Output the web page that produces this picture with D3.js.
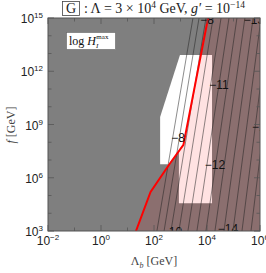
<!DOCTYPE html>
<html><head><meta charset="utf-8">
<script src="https://cdn.jsdelivr.net/npm/d3@7"></script>
<style>body{margin:0;background:#fff}svg{display:block}</style>
</head><body><svg id="sv" width="266" height="273"></svg>
<script>
// log10 values: x = log Λb [GeV], y = log f [GeV]
const xTicks = [-2, 0, 2, 4, 6];
const yTicks = [3, 6, 9, 12, 15];
const redLine = [[1.32, 3], [1.87, 5.2], [2.58, 6.76], [3.11, 7.85], [4.04, 15]];
const brownEdge = [[1.32, 3], [1.87, 5.2], [2.58, 6.76], [3.11, 7.85], [3.98, 15]];
const whiteZone = [[2.98, 12.92], [3.77, 12.92], [3.11, 7.85], [2.58, 6.76], [2.23, 6.76], [2.23, 9.42]];
const pinkZone = [[3.77, 12.92], [4.19, 12.92], [4.19, 4.56], [2.94, 4.56], [2.94, 7.5], [3.11, 7.85]];
const lineZone = [[3.35, 15], [2.98, 12.92], [2.23, 9.42], [2.23, 6.76], [2.58, 6.76], [1.87, 5.2], [1.32, 3], [6, 3], [6, 15]];
const contourTop = [3.47, 3.70, 3.96, 4.23, 4.53, 4.83, 5.13, 5.43, 5.74, 6.04, 6.34, 6.64, 6.94, 7.25, 7.55];
const contourBottom = [2.11, 2.38, 2.64, 2.94, 3.28, 3.62, 3.96, 4.30, 4.64, 4.98, 5.32, 5.66, 6.0, 6.34, 6.68];
const contourLabels = [
  ["\u22128", 4.0, 14.92], ["\u221213", 5.77, 14.92], ["\u221211", 4.45, 11.23], ["\u221215", 6.08, 8.86],
  ["\u22128", 2.91, 8.24], ["\u221212", 4.30, 6.72], ["\u221210", 2.68, 2.97], ["\u221214", 4.79, 3.1]
];

const L = 48, R = 260, T = 18, B = 231;
const x = d3.scaleLinear().domain([-2, 6]).range([L, R]);
const y = d3.scaleLinear().domain([3, 15]).range([B, T]);
const svg = d3.select("#sv");
const serif = "'Liberation Serif','DejaVu Serif',serif";
const sans = "'Liberation Sans',Arial,sans-serif";
const poly = pts => "M" + pts.map(p => x(p[0]) + "," + y(p[1])).join("L") + "Z";

const defs = svg.append("defs");
defs.append("clipPath").attr("id", "pc").append("rect").attr("x", L).attr("y", T).attr("width", R - L).attr("height", B - T);
defs.append("clipPath").attr("id", "lc").append("path").attr("d", poly(lineZone));

const g = svg.append("g").attr("clip-path", "url(#pc)");
g.append("rect").attr("x", L).attr("y", T).attr("width", R - L).attr("height", B - T).attr("fill", "#7f7f7f");
g.append("path").attr("d", poly([...brownEdge, [6, 15], [6, 3]])).attr("fill", "#8b6f6f");
g.append("path").attr("d", poly(whiteZone)).attr("fill", "#fff");
g.append("path").attr("d", poly(pinkZone)).attr("fill", "#ffe2e2");

g.append("g").attr("clip-path", "url(#lc)").selectAll("line").data(contourTop).enter().append("line")
  .attr("x1", d => x(d)).attr("y1", y(15)).attr("x2", (d, i) => x(contourBottom[i])).attr("y2", y(3))
  .attr("stroke", "#222").attr("stroke-opacity", .75).attr("stroke-width", .7);

g.append("path").attr("d", d3.line().x(d => x(d[0])).y(d => y(d[1]))(redLine))
  .attr("fill", "none").attr("stroke", "#f00").attr("stroke-width", 2);

g.append("g").selectAll("text").data(contourLabels).enter().append("text")
  .attr("x", d => x(d[1])).attr("y", d => y(d[2])).attr("dy", ".35em").attr("text-anchor", "middle")
  .attr("font-family", sans).attr("font-size", 12).attr("fill", "#111").text(d => d[0]);

// frame and ticks
svg.append("rect").attr("x", L).attr("y", T).attr("width", R - L).attr("height", B - T)
  .attr("fill", "none").attr("stroke", "#555").attr("stroke-width", 1);
const tk = svg.append("g").attr("stroke", "#555").attr("stroke-width", .8);
d3.range(-2, 7).forEach(v => {
  const len = v % 2 === 0 ? 6 : 3.5;
  tk.append("line").attr("x1", x(v)).attr("x2", x(v)).attr("y1", B).attr("y2", B - len);
  tk.append("line").attr("x1", x(v)).attr("x2", x(v)).attr("y1", T).attr("y2", T + len);
});
d3.range(3, 16).forEach(v => {
  const len = v % 3 === 0 ? 6 : 3.5;
  tk.append("line").attr("y1", y(v)).attr("y2", y(v)).attr("x1", L).attr("x2", L + len);
  tk.append("line").attr("y1", y(v)).attr("y2", y(v)).attr("x1", R).attr("x2", R - len);
});

const pow = (sel, e) => {
  sel.append("tspan").text("10");
  sel.append("tspan").attr("font-size", 8).attr("dy", -5).text(e);
};
svg.append("g").selectAll("text").data(yTicks).enter().append("text")
  .attr("x", L - 5).attr("y", d => y(d) + 5).attr("text-anchor", "end")
  .attr("font-family", sans).attr("font-size", 12).attr("fill", "#222")
  .each(function (d) { pow(d3.select(this), String(d)); });
svg.append("g").selectAll("text").data(xTicks).enter().append("text")
  .attr("x", d => x(d)).attr("y", B + 14).attr("text-anchor", "middle")
  .attr("font-family", sans).attr("font-size", 12).attr("fill", "#222")
  .each(function (d) { pow(d3.select(this), String(d).replace("-", "\u2212")); });

// axis titles
const xl = svg.append("text").attr("x", 154).attr("y", 265).attr("text-anchor", "middle")
  .attr("font-family", serif).attr("font-size", 12).attr("fill", "#444");
xl.append("tspan").text("\u039b");
xl.append("tspan").attr("font-size", 8).attr("dy", 3).attr("font-style", "italic").text("b");
xl.append("tspan").attr("dy", -3).text(" [GeV]");
const yl = svg.append("text").attr("transform", "translate(15,125) rotate(-90)").attr("text-anchor", "middle")
  .attr("font-family", serif).attr("font-size", 12).attr("fill", "#444");
yl.append("tspan").attr("font-style", "italic").text("f");
yl.append("tspan").text(" [GeV]");

// title
svg.append("rect").attr("x", 62.5).attr("y", 1.5).attr("width", 17).attr("height", 14)
  .attr("fill", "none").attr("stroke", "#444").attr("stroke-width", .8);
svg.append("text").attr("x", 71).attr("y", 13).attr("text-anchor", "middle")
  .attr("font-family", serif).attr("font-size", 14).attr("fill", "#222").text("G");
const tt = svg.append("text").attr("x", 84).attr("y", 13).attr("font-family", serif).attr("font-size", 14).attr("fill", "#222")
  .attr("xml:space", "preserve");
tt.append("tspan").text(": \u039b = 3 \u00d7 10");
tt.append("tspan").attr("font-size", 9.5).attr("dy", -5).text("4");
tt.append("tspan").attr("dy", 5).text(" GeV, ");
tt.append("tspan").attr("font-style", "italic").text("g\u2032");
tt.append("tspan").text(" = 10");
tt.append("tspan").attr("font-size", 9.5).attr("dy", -5).text("\u221214");

// legend box
svg.append("rect").attr("x", 66.5).attr("y", 32.5).attr("width", 49).attr("height", 17)
  .attr("fill", "#fff").attr("stroke", "#666").attr("stroke-width", .6);
const lg = svg.append("text").attr("x", 69).attr("y", 45).attr("font-family", serif).attr("font-size", 12).attr("fill", "#111");
lg.append("tspan").text("log ");
lg.append("tspan").attr("font-style", "italic").text("H");
lg.append("tspan").attr("font-size", 7).attr("font-style", "italic").attr("dy", 3).text("I");
lg.append("tspan").attr("font-size", 7).attr("dy", -9).attr("dx", -2).text("max");
</script></body></html>
